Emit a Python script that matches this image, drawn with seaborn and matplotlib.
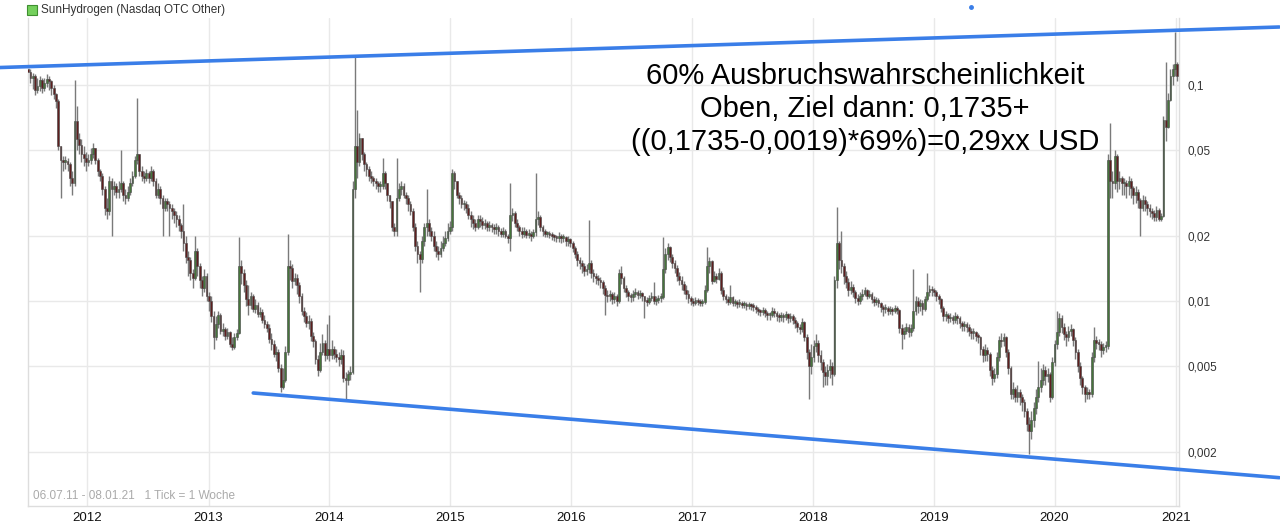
import numpy as np
import pandas as pd
import matplotlib
matplotlib.use("Agg")
import matplotlib.pyplot as plt
from matplotlib.patches import Rectangle
from matplotlib.lines import Line2D
from matplotlib.ticker import NullLocator
import seaborn as sns

# Weekly candles (06.07.11 - 08.01.21), prices in 0.001 USD
first_open = 118
close = [
    # 2011
    115, 108, 110, 95, 99, 105, 97, 102, 107, 104, 97, 91, 84, 52, 45, 44, 44.5, 43, 37, 35, 68, 56, 53, 48, 46, 44,
    # 2012
    45, 48, 51, 45, 40, 38, 33, 27, 26, 36, 33, 34, 32, 33, 35, 31, 30, 32, 35, 38, 45, 48, 40, 38, 37, 39,
    37, 40, 36, 31, 33, 30, 27, 29, 28, 27, 26, 25, 24, 22.5, 21, 18.5, 16, 15.5, 13.5, 12.8, 17, 14.5, 12.5, 11.5, 13, 10.5,
    # 2013
    10, 8.5, 6.8, 7.8, 8.6, 7.3, 7.4, 6.9, 7.2, 6.3, 6.1, 6.8, 7.1, 14.5, 13.5, 11.8, 10.2, 9.6, 10.5, 9.2, 9.6, 8.7, 8.9, 8.2, 7.8, 7.5,
    6.7, 6.3, 5.7, 5.8, 4.9, 4.0, 4.3, 5.8, 14.5, 14.2, 12.4, 12.8, 11.8, 10.5, 9.0, 8.5, 7.9, 8.1, 6.9, 6.5, 5.4, 4.8, 5.8, 6.4, 5.6, 6.0,
    # 2014
    5.6, 6.0, 5.7, 5.5, 5.4, 5.6, 4.4, 4.3, 4.6, 4.7, 33, 52, 44, 57, 48, 43, 41, 38, 37, 36, 35, 34, 34, 39, 35, 31,
    29, 22, 21, 30, 33, 34, 31, 30, 28, 26, 22, 18, 16.5, 15.7, 19, 22, 23, 21, 20, 18, 17, 16.5, 17.5, 18.5, 19.5, 21,
    # 2015
    22, 39, 36, 31, 30, 28, 28, 27, 25, 24, 23, 22, 24, 23.5, 22.5, 23, 22, 22.5, 22, 21.5, 22, 21, 20.5, 21, 20, 19.5,
    25, 25.5, 23, 22, 21, 20.5, 21, 20.2, 20.5, 20, 20.8, 24, 24.5, 22, 21, 20.5, 20.5, 20.3, 20, 19.8, 19.5, 20, 19.5, 19.8, 19, 19.3,
    # 2016
    18.5, 17.5, 16.5, 15.5, 15, 14.5, 13.8, 14, 15, 13.5, 13, 12.8, 12.5, 12.2, 11.5, 10.7, 10.5, 10.8, 10.2, 10.5, 10, 13.5, 12.8, 11.5, 11, 10.5,
    10.4, 10.8, 11, 10.7, 10.9, 10.5, 10, 9.9, 10.3, 10.6, 10, 10.1, 10.3, 10.4, 14, 16.5, 17.8, 16, 15, 14.2, 13, 12.5, 12, 11.3, 10.8, 10.3, 10,
    # 2017
    9.8, 10.1, 9.9, 9.8, 9.9, 11.2, 14.5, 15.3, 12.4, 13, 12.7, 13.5, 11.2, 10.5, 10.2, 9.9, 10.4, 9.8, 9.9, 9.7, 9.8, 9.6, 9.7, 9.5, 9.6, 9.5,
    9.4, 9.2, 9, 8.9, 9.1, 8.8, 8.6, 8.6, 9, 8.8, 8.5, 8.4, 8.6, 8.4, 8.7, 8.3, 8.5, 8.2, 7.9, 7.6, 7.4, 8, 6.8, 5.8, 5, 5.5,
    # 2018
    6.2, 6.4, 5.6, 5.2, 4.7, 4.5, 4.8, 5, 4.6, 12.5, 18.5, 15.5, 14.5, 13, 12.2, 11.3, 11.6, 11, 10.3, 10, 10.5, 10.8, 11.2, 10.6, 10.8, 10.2,
    9.9, 10.1, 9.8, 9.4, 9.2, 9.3, 9, 9.2, 9, 9.3, 9.1, 7.5, 7, 7.3, 7.6, 7.2, 7.5, 9, 10, 9.5, 9.8, 9.2, 10.2, 11, 11.4, 11.2,
    # 2019
    11, 10.6, 10.2, 9.3, 8.5, 8.6, 8.3, 8.4, 8.2, 8.5, 8.3, 7.9, 7.7, 7.8, 7.6, 7.3, 7.1, 7.2, 6.9, 6.8, 6, 5.6, 5.9, 5.7, 4.8, 4.4,
    4.6, 5.5, 6.6, 6.5, 6.8, 5.8, 4.9, 3.7, 3.9, 3.6, 3.8, 3.6, 3.4, 3.1, 2.7, 2.5, 2.8, 3.2, 3.6, 4, 4.3, 4.8, 4.5, 4.6, 3.6, 5.2,
    # 2020 / 2021
    6.3, 7.2, 8.3, 7.6, 7, 6.8, 7.3, 7.4, 6.6, 5.8, 5, 4.4, 4, 3.7, 3.8, 3.7, 5.5, 6.6, 6.4, 6.3, 5.9, 6.1, 6.2, 45, 36, 35, 47,
    36, 37, 35, 35, 34, 36, 33.5, 31, 32, 29.5, 27, 29.5, 28, 27, 26, 25.5, 24.5, 26.5, 24, 24.8, 69, 64, 85, 110, 118, 125, 110,
]
high = [
    122, 118, 114, 112, 108, 110, 108, 108, 112, 110, 106, 100, 92, 86, 50, 47, 47, 46, 44, 40, 105, 80, 60, 56, 52, 49,
    48, 51, 54, 51, 46, 41, 39, 34, 30, 38, 37, 36, 35, 36, 50, 36, 33, 34, 37, 40, 47, 87, 47, 42, 40, 41,
    40, 42, 41, 37, 35, 34, 31, 30, 30, 29, 28, 27, 26, 25, 23, 28, 20, 17, 16, 14, 20, 17.5, 15, 13, 14, 13.5,
    11, 10.5, 9, 8.5, 9, 8.8, 7.9, 7.6, 7.5, 7.3, 6.8, 7.1, 7.4, 19.8, 15.5, 14, 12.5, 11.8, 11, 10.8, 10.2, 9.9, 9.4, 9.2, 8.6, 8.1,
    7.8, 7.1, 6.6, 6.2, 6.0, 5.1, 4.9, 6.2, 20.4, 15.5, 14.8, 13.5, 13.3, 12.2, 10.9, 9.4, 8.9, 8.6, 8.3, 7.2, 6.7, 5.6, 6.4, 7.0, 6.6, 7.8,
    8.6, 6.6, 6.2, 6.0, 5.8, 6.0, 5.9, 4.7, 4.8, 5.0, 36, 135, 77, 60, 57, 49, 44, 42, 40, 38, 37, 36, 36, 46, 40, 35,
    31, 29, 23, 46, 35, 36, 35, 32, 31, 29, 27, 23, 19, 17, 20, 23, 33, 24, 22, 21, 19, 18, 19, 20, 21, 23,
    23.5, 41, 40, 36, 32, 31, 29.5, 29, 28, 26, 25, 24, 25, 25, 24.5, 24, 23.5, 23.5, 23, 22.8, 23, 22.5, 21.8, 22, 21.5, 20.5,
    35, 27, 26, 24, 22.5, 22, 22, 21.5, 21.5, 21, 21.5, 39, 26, 25, 22.5, 21.5, 21.2, 21, 20.8, 20.5, 20.2, 20.8, 20.5, 20.5, 20, 20,
    19.6, 19, 18, 17, 16, 15.5, 15, 14.8, 23.7, 15.5, 14, 13.5, 13.2, 12.9, 12.5, 11.8, 11.2, 11.3, 11, 11, 10.8, 14, 14.5, 13, 11.8, 11.3,
    10.9, 11.2, 11.5, 11.3, 11.3, 11, 10.6, 10.4, 10.7, 11, 12.2, 10.5, 10.7, 10.9, 19.8, 17.5, 18.5, 18, 16.5, 15.5, 14.6, 13.6, 13, 12.4, 11.8, 11.2, 10.6,
    10.3, 10.4, 10.3, 10.2, 10.2, 11.8, 17.8, 16, 15.5, 13.8, 13.5, 14.2, 13.8, 11.6, 10.8, 10.5, 11.8, 10.6, 10.2, 10.1, 10.2, 10, 10, 9.9, 9.9, 9.8,
    9.8, 9.6, 9.4, 9.2, 9.4, 9.3, 9, 8.9, 9.4, 9.3, 9, 8.8, 8.9, 8.8, 9, 8.8, 8.8, 8.7, 8.4, 8.1, 7.8, 8.3, 8.1, 7, 6, 6.3,
    6.6, 7, 6.6, 5.9, 5.4, 5, 5.1, 5.4, 5.2, 13, 27.2, 19, 21, 15, 13.8, 12.8, 12.4, 12, 11.3, 10.8, 11, 11.4, 11.6, 11.4, 11.2, 11,
    10.5, 10.4, 10.3, 9.9, 9.6, 9.7, 9.5, 9.5, 9.4, 9.6, 9.5, 9.2, 7.8, 7.6, 7.9, 7.8, 7.8, 14, 10.6, 10.4, 10.2, 10.1, 10.6, 13.5, 11.8, 11.7,
    11.5, 11.2, 10.8, 10.3, 9.5, 9, 8.8, 8.8, 8.6, 8.9, 8.7, 8.5, 8.1, 8.1, 8, 7.8, 7.5, 7.5, 7.3, 7.1, 6.9, 6.2, 6.3, 6.1, 5.8, 5,
    4.9, 5.8, 6.9, 7.1, 7.1, 6.9, 6, 5, 4.2, 4, 4.1, 3.9, 3.7, 3.5, 3.2, 2.9, 3.1, 3.4, 3.9, 5.3, 4.9, 5.1, 5, 4.9, 4.7, 5.5,
    6.6, 9, 8.8, 8.6, 7.9, 7.3, 7.7, 7.8, 7.5, 6.8, 6, 5.2, 4.5, 4.1, 4, 3.9, 5.8, 7.6, 6.9, 6.7, 6.5, 6.4, 6.5, 48, 67, 40, 50,
    48, 40, 38, 37, 36.5, 38, 37, 34, 34, 33, 30, 31, 30.5, 29, 28, 27, 26.5, 27.5, 27, 25.5, 72, 128, 92, 118, 125, 176, 128,
]
low = [
    108, 102, 96, 90, 92, 94, 92, 94, 98, 95, 90, 86, 78, 50, 30, 40, 41, 40, 34, 31, 34, 50, 48, 44, 42, 40,
    42, 43, 46, 43, 38, 36, 31, 25, 24, 25, 20, 31, 30, 30, 32, 29, 28, 29, 31, 34, 37, 43, 38, 36, 35, 36,
    35, 36, 34, 30, 30, 28, 20, 26, 26, 20, 24, 23, 22, 21, 19.5, 17, 15, 13, 12.5, 11.5, 12.5, 13, 11.5, 10.5, 11, 10,
    9, 8, 6, 6.6, 7.5, 7, 6.9, 6.6, 6.7, 6.1, 5.9, 6, 6.6, 7, 12, 11, 9.5, 8.6, 9.2, 8.9, 8.8, 8.4, 8.4, 7.9, 7.5, 7.2,
    6.4, 5.9, 5.5, 5.3, 4.7, 3.8, 3.9, 4.2, 5.6, 12.5, 11.5, 11.8, 10.8, 9.8, 8.6, 8, 7.6, 7.4, 6.5, 6.1, 5.1, 4.5, 4.7, 5.6, 5.3, 5.4,
    5.3, 5.4, 5.4, 5.2, 5.0, 5.1, 4.2, 3.5, 4.1, 4.3, 4.6, 30, 37, 42, 45, 40, 38, 36, 35, 34, 33, 32, 32, 33, 33, 29,
    27, 21, 20, 20, 29, 31, 30, 28, 26, 25, 21, 17, 15, 11, 15, 18, 20, 20, 19, 17, 16, 15.5, 16, 17, 18, 19,
    20.5, 21, 33, 30, 28, 27, 26.5, 25.5, 24, 22, 21.5, 21, 21.5, 22, 21.5, 21.5, 21, 21, 20.8, 20.5, 20.5, 20, 19.8, 19.8, 19.5, 18.5,
    17, 23.5, 22, 21, 20, 19.5, 19.8, 19.5, 19.5, 19, 19.5, 20, 22.5, 21, 20, 19.8, 19.8, 19.5, 19.2, 19, 18.8, 18.8, 18.5, 18.8, 18, 18,
    17.8, 16.8, 15.8, 14.5, 14, 13.5, 13, 13.2, 13.5, 12.8, 12.3, 12, 11.8, 11.5, 10.8, 8.6, 9.9, 10, 9.7, 9.8, 9.5, 9.8, 12, 11, 10.4, 10,
    9.9, 10, 10.4, 10.2, 10.3, 10, 8.3, 9.5, 9.7, 10, 9.7, 9.6, 9.8, 9.9, 10.2, 13.5, 15.5, 15.2, 14.2, 13.5, 12.4, 11.9, 11.2, 10.8, 10.2, 9.8, 9.6,
    9.5, 9.6, 9.6, 9.5, 9.5, 9.7, 11, 13.5, 12, 12.2, 12.1, 12.5, 10.8, 10.1, 9.8, 9.6, 9.7, 9.5, 9.5, 9.3, 9.4, 9.3, 9.3, 9.1, 9.2, 9.1,
    9, 8.8, 8.6, 8.5, 8.6, 8.4, 8.2, 8.2, 8.4, 8.4, 8.1, 8, 8.1, 8, 8.2, 7.9, 8, 7.8, 7.5, 7.2, 7, 7.2, 6.5, 5.4, 3.5, 4.6,
    5.2, 5.8, 5.2, 4.8, 4, 4.1, 4.1, 4.4, 4.1, 4.5, 11.5, 14, 13.5, 12, 11.5, 10.5, 10.8, 10.4, 9.8, 9.6, 9.7, 10.1, 10.5, 10.2, 10.3, 9.8,
    9.5, 9.6, 9.4, 8.9, 8.5, 8.8, 8.6, 8.7, 8.6, 8.8, 8.7, 7.1, 6, 6.7, 7, 6.8, 6.9, 7.3, 8.6, 8.8, 9, 8.6, 9, 10, 10.6, 10.6,
    10.5, 10, 9.7, 8.9, 8.1, 8.1, 7.9, 8, 7.8, 7.9, 7.8, 7.5, 7.3, 7.3, 7.2, 6.9, 6.7, 6.7, 6.5, 6.4, 5.6, 5.2, 5.3, 5.3, 4.5, 4.1,
    4.2, 4.4, 5.3, 6.1, 6.2, 5.5, 4.6, 3.5, 3.5, 3.4, 3.4, 3.3, 3.1, 2.9, 2.5, 1.95, 2.3, 2.6, 3, 3.4, 3.8, 4.1, 4.1, 4.2, 3.4, 3.5,
    5, 6, 6.9, 7.1, 6.6, 6.2, 6.5, 6.9, 6.2, 5.4, 4.7, 4.1, 3.7, 3.4, 3.5, 3.5, 3.6, 5.2, 6, 5.9, 5.5, 5.7, 5.8, 6, 30, 30, 33,
    32, 33, 31, 31, 30, 31, 30, 28, 28.5, 27, 20, 26, 26, 25, 24.5, 24, 23.5, 23.5, 23.5, 23.5, 24.5, 55, 63, 84, 100, 110, 104,
]

y_ticks = [0.002, 0.005, 0.01, 0.02, 0.05, 0.1]
y_tick_labels = ["0,002", "0,005", "0,01", "0,02", "0,05", "0,1"]
years = list(range(2012, 2022))

# hand-drawn trend channel
upper_line_dates = ["2011-04-12", "2021-11-10"]
upper_line_prices = [0.1205, 0.1856]
lower_line_dates = ["2013-05-16", "2021-11-10"]
lower_line_prices = [0.00375, 0.00152]

note = "60% Ausbruchswahrscheinlichkeit\nOben, Ziel dann: 0,1735+\n((0,1735-0,0019)*69%)=0,29xx USD"

assert len(close) == len(high) == len(low)

dates = pd.date_range("2011-07-06", periods=len(close), freq="7D")
c = np.array(close) / 1000
o = np.concatenate([[first_open / 1000], c[:-1]])
h = np.maximum(np.array(high) / 1000, np.maximum(o, c))
lo = np.minimum(np.array(low) / 1000, np.minimum(o, c))

sns.set_style("white")
plt.rcParams["font.family"] = ["Liberation Sans", "DejaVu Sans"]

fig = plt.figure(figsize=(12.8, 5.29), dpi=100)
ax = fig.add_axes([27.5 / 1280, 23 / 529, (1179 - 27.5) / 1280, 488 / 529])
ax.set_yscale("log")

# wicks + bodies
ax.vlines(dates, lo, h, color="#7a7a7a", linewidth=1.0, zorder=2)
up = c >= o
body_bottom = np.minimum(o, c)
body_h = np.maximum(np.abs(c - o), body_bottom * 0.02)
ax.bar(dates, body_h, bottom=body_bottom, width=5.4,
       color=np.where(up, "#46753b", "#5e1f1f"), edgecolor="#4a4a4a",
       linewidth=0.4, zorder=3)

# trend lines
lines_df = pd.DataFrame({
    "date": pd.to_datetime(upper_line_dates + lower_line_dates),
    "price": upper_line_prices + lower_line_prices,
    "line": ["upper"] * 2 + ["lower"] * 2,
})
sns.lineplot(data=lines_df, x="date", y="price", units="line", estimator=None,
             color="#3a7ee8", linewidth=2.6, ax=ax, legend=False, zorder=4)
for ln in ax.lines:
    ln.set_clip_on(False)

ax.set_xlim(pd.Timestamp("2011-07-04"), pd.Timestamp("2021-01-11"))
ax.set_ylim(0.001124, 0.2043)

ax.set_xticks(pd.to_datetime([f"{y}-01-01" for y in years]))
ax.set_xticklabels([str(y) for y in years])
ax.yaxis.tick_right()
ax.set_yticks(y_ticks)
ax.set_yticklabels(y_tick_labels)
ax.yaxis.set_minor_locator(NullLocator())
ax.tick_params(axis="y", length=0, pad=6, labelsize=8.5, labelcolor="#333333")
ax.tick_params(axis="x", length=0, pad=4, labelsize=9.5, labelcolor="#111111")
ax.set_xlabel("")
ax.set_ylabel("")
ax.grid(True, color="#e9e9e9", linewidth=1)
ax.set_axisbelow(True)
for side in ["left", "right", "bottom"]:
    ax.spines[side].set_color("#dddddd")
    ax.spines[side].set_linewidth(1)
ax.spines["top"].set_visible(False)

# legend-like header
fig.add_artist(Rectangle((27 / 1280, 1 - 15 / 529), 10 / 1280, 10 / 529,
                         transform=fig.transFigure, facecolor="#74d05c",
                         edgecolor="#3f8f30", linewidth=0.8))
fig.text(41 / 1280, 1 - 10 / 529, "SunHydrogen (Nasdaq OTC Other)",
         va="center", fontsize=8.5, color="#333333")
fig.add_artist(Line2D([971 / 1280], [1 - 7 / 529], marker="o", markersize=2.5,
                      linestyle="none", color="#3a7ee8", transform=fig.transFigure))

fig.text(33 / 1280, 1 - 496 / 529, "06.07.11 - 08.01.21   1 Tick = 1 Woche",
         va="center", fontsize=8.5, color="#aaaaaa")

fig.text(865 / 1280, 1 - 109 / 529, note, ha="center", va="center",
         fontsize=21, linespacing=1.24, color="black")

fig.savefig("out.png", dpi=100)
